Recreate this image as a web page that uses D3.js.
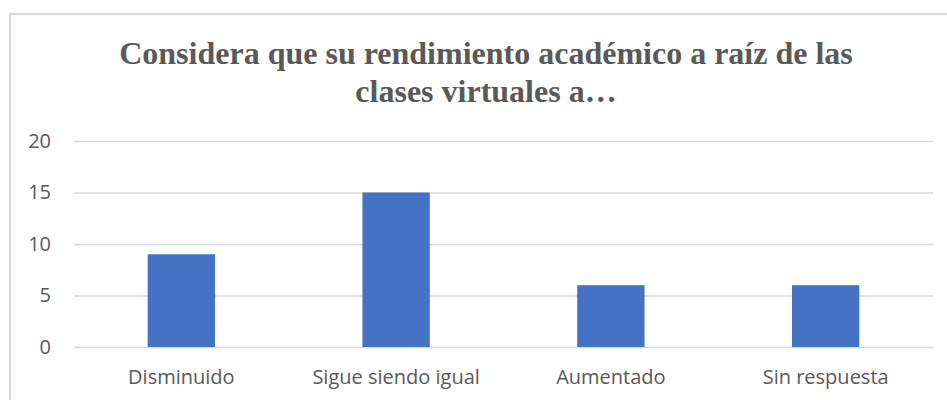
<!DOCTYPE html>
<html>
<head>
<meta charset="utf-8">
<script src="https://cdn.jsdelivr.net/npm/d3@7"></script>
<style>
  html, body { margin: 0; padding: 0; background: #fff; }
  svg { display: block; }
</style>
</head>
<body>
<svg id="chart" width="947" height="400"></svg>
<script>
const titleLines = ["Considera que su rendimiento académico a raíz de las", "clases virtuales a…"];
const categories = ["Disminuido", "Sigue siendo igual", "Aumentado", "Sin respuesta"];
const values = [9, 15, 6, 6];
const yTicks = [0, 5, 10, 15, 20];

const svg = d3.select("#chart");
const W = 947, H = 400;
const margin = { left: 74, right: 14, top: 141, bottom: 53 };

// outer frame
svg.append("rect")
  .attr("x", 10).attr("y", 14)
  .attr("width", 950).attr("height", 400)
  .attr("fill", "#fff")
  .attr("stroke", "#d9d9d9").attr("stroke-width", 2);

// title
const title = svg.append("text")
  .attr("text-anchor", "middle")
  .attr("font-family", "'Liberation Serif', 'Times New Roman', serif")
  .attr("font-weight", "bold")
  .attr("font-size", 32)
  .attr("fill", "#595959");
titleLines.forEach((t, i) => {
  title.append("tspan").attr("x", 486).attr("y", 64 + i * 38).text(t);
});

const x = d3.scaleBand()
  .domain(categories)
  .range([margin.left, W - margin.right])
  .paddingInner(0.6865)
  .paddingOuter(0.343);

const y = d3.scaleLinear()
  .domain([0, 20])
  .range([H - margin.bottom, margin.top]);

// gridlines
const grid = d3.axisLeft(y).tickValues(yTicks).tickSize(-(W - margin.right - margin.left)).tickFormat("");
const gG = svg.append("g").attr("transform", `translate(${margin.left},0)`).call(grid);
gG.select(".domain").remove();
gG.selectAll("line").attr("stroke", "#d9d9d9").attr("stroke-width", 1.3);

// bars
svg.append("g").selectAll("rect")
  .data(values)
  .join("rect")
  .attr("x", (d, i) => x(categories[i]))
  .attr("y", d => y(d))
  .attr("width", x.bandwidth())
  .attr("height", d => y(0) - y(d))
  .attr("fill", "#4472C4");

// y axis labels
const yAxis = d3.axisLeft(y).tickValues(yTicks).tickSize(0).tickPadding(23).tickFormat(d3.format("d"));
const yG = svg.append("g").attr("transform", `translate(${margin.left},0)`).call(yAxis);
yG.select(".domain").remove();
yG.selectAll("text")
  .attr("font-family", "'Open Sans', sans-serif")
  .attr("font-size", 20)
  .attr("fill", "#595959");

// x axis labels
const xAxis = d3.axisBottom(x).tickSize(0).tickPadding(23);
const xG = svg.append("g").attr("transform", `translate(0,${H - margin.bottom})`).call(xAxis);
xG.select(".domain").remove();
xG.selectAll("text")
  .attr("font-family", "'Open Sans', sans-serif")
  .attr("font-size", 20)
  .attr("fill", "#595959");
</script>
</body>
</html>
